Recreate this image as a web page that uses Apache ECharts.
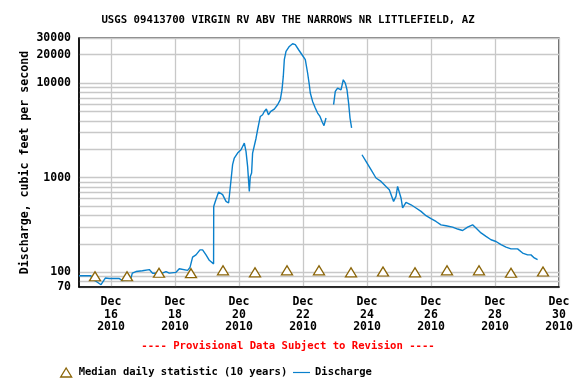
<!DOCTYPE html>
<html>
<head>
<meta charset="utf-8">
<script src="https://cdn.jsdelivr.net/npm/echarts@6/dist/echarts.min.js"></script>
<style>html,body{margin:0;padding:0;background:#fff}#c{width:576px;height:384px}</style>
</head>
<body>
<div id="c"></div>
<script>
// Day-of-December 2010 (fractional) for discharge readings
var dischargeDays = [15.000,15.375,15.406,15.54,15.688,15.822,15.947,16.26,16.353,16.51,16.625,16.666,16.781,16.98,17.197,17.3,17.603,17.719,17.822,18.031,18.134,18.394,18.469,18.55,18.656,18.781,18.862,18.969,19.072,19.206,19.21,19.259,19.362,19.488,19.594,19.675,19.719,19.8,19.853,19.956,20.063,20.166,20.219,20.269,20.322,20.353,20.394,20.425,20.531,20.572,20.634,20.666,20.738,20.791,20.856,20.919,20.994,21.103,21.206,21.291,21.344,21.384,21.416,21.469,21.572,21.675,21.759,21.863,21.969,22.072,22.144,22.197,22.228,22.3,22.384,22.456,22.531,22.594,22.656,22.719,22.84,22.956,23.009,23.081,23.188,23.259,23.322,23.375,23.425,23.469,23.519,23.68,23.844,23.969,24.125,24.281,24.438,24.594,24.697,24.831,24.906,24.956,24.988,25.063,25.113,25.219,25.375,25.531,25.688,25.844,26.0,26.156,26.313,26.469,26.675,26.831,26.988,27.144,27.3,27.406,27.563,27.719,27.875,28.031,28.188,28.344,28.5,28.706,28.863,29.019,29.125,29.228,29.331];
// Discharge, cubic feet per second (null = missing record)
var dischargeValues = [92,92,85,80,74,87,86,86,82,83,87,98,102,104,107,98,98,102,98,100,109,105,113,145,153,173,173,153,134,123,497,562,707,662,562,541,747,1374,1615,1823,1977,2328,1897,1318,718,1033,1122,1823,2600,3100,3938,4446,4634,5020,5320,4634,5020,5320,5915,6683,8516,11770,17690,21640,24420,26100,25480,22540,19950,17690,12800,9620,7870,6410,5460,4830,4446,3938,3550,4280,null,5915,8170,8870,8500,10860,10020,8516,6160,4280,3360,null,1750,1490,1216,994,915,809,747,562,635,809,843,611,479,548,518,479,441,397,369,345,318,311,301,287,277,301,318,294,261,240,221,212,196,185,177,177,160,153,153,142,136];
// Median daily statistic (10 years), plotted at noon of each day
var medianDays = [15.5,16.5,17.5,18.5,19.5,20.5,21.5,22.5,23.5,24.5,25.5,26.5,27.5,28.5,29.5];
var medianValues = [91,91,99,98,105,100,105,105,100,102,100,105,105,99,102];
// Axis ticks
var xTickDays = [16,18,20,22,24,26,28,30];
var yGridValues = [70,80,90,100,200,300,400,500,600,700,800,900,1000,2000,3000,4000,5000,6000,7000,8000,9000,10000,20000,30000];
var yLabelValues = [70,100,1000,10000,20000,30000];

var titleText = 'USGS 09413700 VIRGIN RV ABV THE NARROWS NR LITTLEFIELD, AZ';
var provisionalText = '---- Provisional Data Subject to Revision ----';
var medianName = 'Median daily statistic (10 years)';
var dischargeName = 'Discharge';

var FONT = '"DejaVu Sans Mono", "Liberation Mono", monospace';
var LINE_COLOR = '#0a80cc';
var chart = echarts.init(document.getElementById('c'), null, {renderer: 'canvas'});

var disData = dischargeDays.map(function (d, i) { return [d, dischargeValues[i]]; });
var medData = medianDays.map(function (d, i) { return [d, medianValues[i]]; });

chart.setOption({
  animation: false,
  backgroundColor: '#ffffff',
  title: [
    {text: titleText, left: 'center', top: 10,
     textStyle: {fontFamily: FONT, fontSize: 10.7, fontWeight: 'bold', color: '#000'}},
    {text: provisionalText, left: 'center', top: 336,
     textStyle: {fontFamily: FONT, fontSize: 10.6, fontWeight: 'bold', color: '#ff0000'}}
  ],
  legend: [
    {left: 55, top: 362, itemWidth: 11, itemHeight: 9,
     selectedMode: false,
     textStyle: {fontFamily: FONT, fontSize: 10.5, fontWeight: 'bold', color: '#000', padding: [0, 0, 0, 2]},
     data: [{name: medianName, icon: 'triangle',
             itemStyle: {color: '#ffffff', borderColor: '#8b6508', borderWidth: 1.3}}]},
    {left: 288, top: 362, itemWidth: 17, itemHeight: 9,
     selectedMode: false,
     textStyle: {fontFamily: FONT, fontSize: 10.5, fontWeight: 'bold', color: '#000'},
     data: [{name: dischargeName,
             icon: 'path://M0,4.2 L17,4.2 L17,5.4 L0,5.4 Z',
             itemStyle: {color: LINE_COLOR, borderWidth: 0}}]}
  ],
  grid: {left: 79, top: 38, width: 480, height: 249, show: true,
         borderColor: '#000', borderWidth: 1.2, backgroundColor: 'transparent'},
  xAxis: {
    type: 'value', min: 15, max: 30,
    axisLine: {show: true, lineStyle: {color: '#000', width: 1.5}},
    axisTick: {show: false, customValues: xTickDays},
    splitLine: {show: true, lineStyle: {color: '#c8c8c8', width: 1.3}},
    axisLabel: {
      customValues: xTickDays, margin: 9, lineHeight: 12.5,
      fontFamily: FONT, fontSize: 11.5, fontWeight: 'bold', color: '#000',
      formatter: function (v) { return 'Dec\n' + Math.round(v) + '\n2010'; }
    }
  },
  yAxis: {
    type: 'log', logBase: 10, min: 70, max: 30000,
    name: 'Discharge, cubic feet per second', nameLocation: 'middle', nameGap: 48,
    nameMoveOverlap: false,
    nameTextStyle: {fontFamily: FONT, fontSize: 11.6, fontWeight: 'bold', color: '#000'},
    axisLine: {show: true, lineStyle: {color: '#000', width: 1.5}},
    axisTick: {show: false, customValues: yGridValues},
    splitLine: {show: true, lineStyle: {color: '#c8c8c8', width: 1.3}},
    axisLabel: {
      customValues: yLabelValues, margin: 8,
      fontFamily: FONT, fontSize: 11.5, fontWeight: 'bold', color: '#000',
      formatter: function (v) { return String(Math.round(v)); }
    }
  },
  series: [
    {name: dischargeName, type: 'line', data: disData, symbol: 'none', connectNulls: false,
     lineStyle: {color: LINE_COLOR, width: 1.4}, itemStyle: {color: LINE_COLOR}, z: 3},
    {name: medianName, type: 'scatter', data: medData, symbol: 'triangle', symbolSize: [11, 9],
     itemStyle: {color: '#ffffff', borderColor: '#8b6508', borderWidth: 1.3, opacity: 1}, z: 4}
  ]
});
</script>
</body>
</html>
